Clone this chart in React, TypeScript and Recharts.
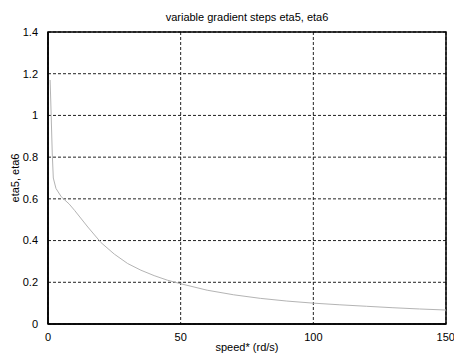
import React from 'react';
import { LineChart, Line, XAxis, YAxis, CartesianGrid, Label, ReferenceArea } from 'recharts';

// speed* (rd/s) samples and the corresponding gradient step values
const speeds = [0.8, 1.2, 1.6, 2, 3, 5, 8, 10, 15, 20, 25, 30, 35, 40, 45, 50, 60, 70, 80, 90, 100, 110, 120, 130, 140, 150];
const etaValues = [1.17, 1.0, 0.82, 0.7, 0.65, 0.61, 0.575, 0.545, 0.465, 0.39, 0.335, 0.29, 0.258, 0.232, 0.21, 0.193, 0.162, 0.14, 0.123, 0.11, 0.1, 0.092, 0.085, 0.078, 0.072, 0.067];

const xTicks = [0, 50, 100, 150];
const yTicks = [0, 0.2, 0.4, 0.6, 0.8, 1, 1.2, 1.4];

const title = 'variable gradient steps eta5, eta6';
const xLabel = 'speed* (rd/s)';
const yLabel = 'eta5, eta6';

const data = speeds.map((s, i) => ({ speed: s, eta: etaValues[i] }));

const font = { fontFamily: '"Liberation Sans", Arial, sans-serif', fontSize: 11, fill: '#000' };

export default function App() {
  return (
    <div style={{ position: 'absolute', left: 0, top: 0, width: 454, height: 356, background: '#fff' }}>
      <LineChart width={454} height={356} data={data} margin={{ top: 32, right: 8, bottom: 0, left: 0 }}>
        <CartesianGrid stroke="#222" strokeDasharray="3 2" strokeWidth={1} />
        <XAxis
          dataKey="speed"
          type="number"
          domain={[0, 150]}
          ticks={xTicks}
          height={32}
          stroke="#000"
          strokeWidth={1.5}
          tickLine={false}
          tickMargin={3}
          tick={font}
          allowDataOverflow
        >
          <Label value={xLabel} position="insideBottom" offset={5} style={font} />
        </XAxis>
        <YAxis
          type="number"
          domain={[0, 1.4]}
          ticks={yTicks}
          width={48}
          stroke="#000"
          strokeWidth={1.5}
          tickLine={false}
          tickMargin={4}
          tick={font}
          allowDataOverflow
        >
          <Label value={yLabel} angle={-90} position="center" dx={-9} style={font} />
        </YAxis>
        <ReferenceArea
          x1={0}
          x2={150}
          y1={0}
          y2={1.4}
          fill="none"
          stroke="#000"
          strokeWidth={1.5}
          label={{ value: title, position: 'top', offset: 11, style: font }}
        />
        <Line
          type="linear"
          dataKey="eta"
          stroke="#b4b4b4"
          strokeWidth={1}
          dot={false}
          isAnimationActive={false}
        />
      </LineChart>
    </div>
  );
}
